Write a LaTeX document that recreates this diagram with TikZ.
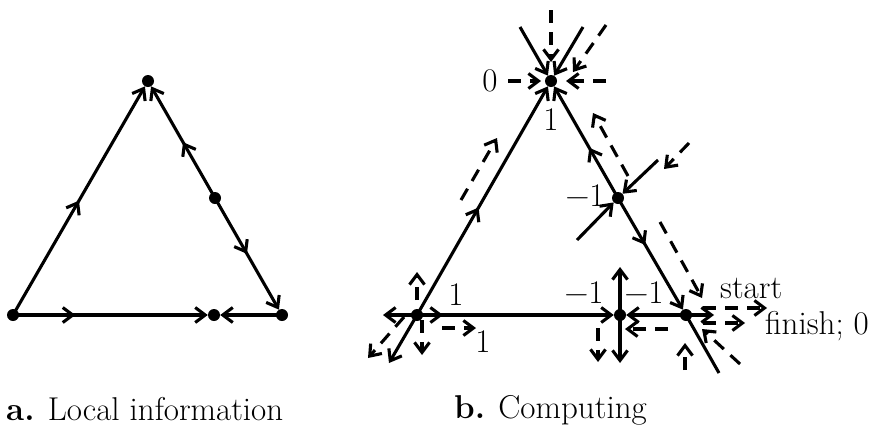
\documentclass[tikz,border=0pt]{standalone}
\usepackage{fontspec}
\usetikzlibrary{arrows.meta,decorations.markings}
\begin{document}
\begin{tikzpicture}[x=1pt,y=-1pt,
  ln/.style={line width=3.1pt},
  dsh/.style={line width=3.1pt, dash pattern=on 13pt off 9pt},
  >={Straight Barb[length=10pt,width=15pt]},
  dot/.style={circle,fill,inner sep=0pt,minimum size=12pt},
  mid/.style={postaction={decorate},decoration={markings,mark=at position #1 with {\arrow{>}}}},
  lbl/.style={font=\fontsize{33}{38}\selectfont, inner sep=0pt}]
\useasboundingbox (0,0) rectangle (874,437);
% ---------- left triangle ----------
\node[dot] (A1) at (13,315) {};
\node[dot] (B1) at (148,81) {};
\node[dot] (C1) at (282,315) {};
\node[dot] (M1) at (215,198) {};
\node[dot] (D1) at (214,315) {};
\draw[ln,->,mid=0.5] (A1.center) -- (B1);
\draw[ln,->,mid=0.5] (M1.center) -- (B1);
\draw[ln,->,mid=0.5] (M1.center) -- (C1);
\draw[ln,->,mid=0.32] (A1.center) -- (D1);
\draw[ln,->] (C1.center) -- (D1);
% ---------- right triangle ----------
\node[dot] (A2) at (417,315) {};
\node[dot] (B2) at (551,81) {};
\node[dot] (C2) at (686,315) {};
\node[dot] (M2) at (618,198) {};
\node[dot] (D2) at (620,315) {};
\coordinate (L1a) at (389,363);
\coordinate (L1b) at (583,27);
\coordinate (L2a) at (520,27);
\coordinate (L2b) at (719,373);
\coordinate (Hl) at (383,315);
\coordinate (Hr) at (443,315);
\coordinate (Hrr) at (714,315);
\coordinate (Vu) at (620,267);
\coordinate (Vd) at (620,363);
\coordinate (Xa) at (577,240);
\coordinate (Xb) at (658,160);
\draw[ln,->] (A2.center) -- (L1a);
\draw[ln,->,mid=0.47] (A2.center) -- (B2);
\draw[ln,->] (L1b) -- (B2);
\draw[ln,->] (L2a) -- (B2);
\draw[ln,->,mid=0.45] (M2.center) -- (B2);
\draw[ln,->,mid=0.42] (M2.center) -- (C2);
\draw[ln] (C2.center) -- (L2b);
\draw[ln,->] (A2.center) -- (Hl);
\draw[ln,->] (A2.center) -- (Hr);
\draw[ln,->] (A2.center) -- (D2);
\draw[ln,->] (C2.center) -- (D2);
\draw[ln,->] (C2.center) -- (Hrr);
\draw[ln,->] (D2.center) -- (Vu);
\draw[ln,->] (D2.center) -- (Vd);
\draw[ln,->] (Xa) -- (M2);
\draw[ln,->] (Xb) -- (M2);
% dashed arrows
\coordinate (d1s) at (551,10);  \coordinate (d1e) at (551,62);
\coordinate (d2s) at (508,81);  \coordinate (d2e) at (541,81);
\coordinate (d3s) at (606,81);  \coordinate (d3e) at (566,81);
\coordinate (d4s) at (606,25);  \coordinate (d4e) at (573,72);
\coordinate (d5s) at (628,176); \coordinate (d5e) at (593,113);
\coordinate (d6s) at (660,222); \coordinate (d6e) at (702,298);
\coordinate (d7s) at (689,143); \coordinate (d7e) at (664,169);
\coordinate (d8s) at (740,364); \coordinate (d8e) at (702,329);
\coordinate (d9s) at (685,370); \coordinate (d9e) at (685,343);
\coordinate (d10s) at (703,308); \coordinate (d10e) at (767,308);
\coordinate (d11s) at (703,323); \coordinate (d11e) at (745,323);
\coordinate (d12s) at (668,329); \coordinate (d12e) at (625,329);
\coordinate (d13s) at (598,328); \coordinate (d13e) at (598,362);
\coordinate (d14s) at (417,300); \coordinate (d14e) at (417,272);
\coordinate (d15s) at (422,320); \coordinate (d15e) at (422,355);
\coordinate (d16s) at (404,317); \coordinate (d16e) at (368,358);
\coordinate (d17s) at (442,328); \coordinate (d17e) at (476,328);
\coordinate (d18s) at (461,200); \coordinate (d18e) at (497,138);
\foreach \i in {1,...,18} {\draw[dsh,->] (d\i s) -- (d\i e);}
% labels
\node[lbl] (l0) at (490,81) {0};
\node[lbl] (l1top) at (551,120) {1};
\node[lbl] (lm1m) at (585,196) {−1};
\node[lbl] (l1a) at (456,295) {1};
\node[lbl] (l1b) at (483,342) {1};
\node[lbl] (lm1l) at (584,293) {−1};
\node[lbl] (lm1r) at (644,293) {−1};
\node[lbl,anchor=base west] (lstart) at (720,298) {start};
\node[lbl,anchor=base west] (lfin) at (765,334) {finish; 0};
\node[lbl,anchor=base west] (capa) at (6,420) {\textbf{a.} Local information};
\node[lbl,anchor=base west] (capb) at (454,418) {\textbf{b.} Computing};
\end{tikzpicture}
\end{document}
